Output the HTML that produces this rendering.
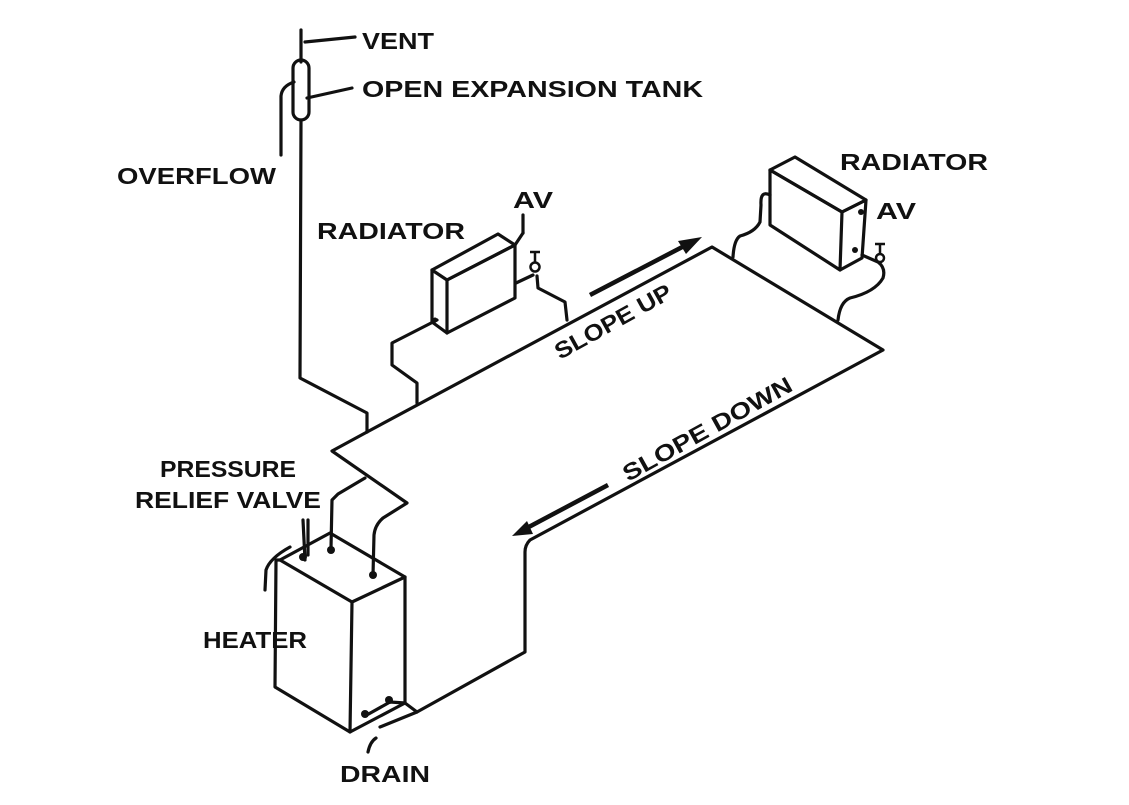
<!DOCTYPE html>
<html><head><style>
html,body{margin:0;padding:0;background:#fff;}
svg{display:block;}
text{font-family:"Liberation Sans",sans-serif;font-weight:bold;font-size:23px;fill:#111;}
</style></head><body>
<svg width="1129" height="805" viewBox="0 0 1129 805" xmlns="http://www.w3.org/2000/svg">
<g fill="none" stroke="#111" stroke-width="3.2" stroke-linejoin="round" stroke-linecap="round">
<!-- vent + tank -->
<line x1="301" y1="30" x2="301" y2="62"/>
<rect x="293" y="60" width="16" height="60" rx="8"/>
<path d="M294 82 Q282 86 281 96 L281 155"/>
<line x1="305" y1="42" x2="355" y2="37"/>
<line x1="307" y1="98" x2="352" y2="88"/>
<!-- supply riser -->
<path d="M301 120 L300 378 L367 413 L367 432"/>
<!-- main loop -->
<path d="M367 432 L712 247 L883 350 L530 540 Q525 545 525 552 L525 652 L417 712"/>
<path d="M367 432 L332 451 L407 503 L383 518 Q375 525 374 535 L373 575"/>
<path d="M365 478 L338 494 L332 500 L331 548"/>
<!-- heater -->
<path d="M280 560 L330 533 L405 577 L352 602 Z"/>
<path d="M280 560 L276 560 L275 687 L350 732 L405 703 L405 577"/>
<line x1="352" y1="602" x2="350" y2="732"/>
<path d="M365 716 L390 702 L405 703"/>
<path d="M380 727 L417 712 L405 703"/>
<path d="M376 738 Q370 742 368 752"/>
<!-- relief valve -->
<path d="M303 520 L305 560 M308 520 L308 555"/>
<path d="M265 590 L266 570 Q270 558 290 547"/>
<!-- radiator 1 -->
<path d="M432 270 L498 234 L515 245 L447 280 Z"/>
<path d="M447 280 L515 245 L515 298 L447 333 Z"/>
<path d="M432 270 L432 322 L447 333"/>
<path d="M437 320 L392 343 L392 365 L417 383 L417 403"/>
<path d="M516 283 L533 275 M537 276 L538 288 L565 302 L567 320"/>
<line x1="523" y1="215" x2="523" y2="233"/>
<path d="M523 233 L515 245"/>
<!-- radiator 2 -->
<path d="M770 170 L795 157 L866 200 L842 212 Z"/>
<path d="M770 170 L842 212 L840 270 L770 225 Z"/>
<path d="M842 212 L866 200 L862 258 L840 270"/>
<path d="M770 195 Q760 190 761 205 L760 222 Q755 232 740 236 Q734 240 733 257"/>
<path d="M862 255 L878 262 Q886 268 883 278 Q875 292 850 298 Q840 302 838 320"/>
</g>
<g fill="#111">
<circle cx="535" cy="267" r="4.5" fill="#fff" stroke="#111" stroke-width="2.5"/>
<path d="M530 252 L540 252 M535 252 L535 262" stroke="#111" stroke-width="2.5"/>
<circle cx="880" cy="258" r="4" fill="#fff" stroke="#111" stroke-width="2.5"/>
<path d="M875 244 L885 244 M880 244 L880 254" stroke="#111" stroke-width="2.5"/>
<circle cx="861" cy="212" r="3"/><circle cx="855" cy="250" r="3"/>
<circle cx="303" cy="557" r="4"/><circle cx="331" cy="550" r="4"/><circle cx="373" cy="575" r="4"/>
<circle cx="365" cy="714" r="4"/><circle cx="389" cy="700" r="4"/>
<circle cx="435" cy="320" r="2.5"/>
<!-- arrows -->
<path d="M590 295 L690 243" stroke="#111" stroke-width="4.5"/>
<polygon points="702,237 678,241 686,254"/>
<path d="M608 485 L525 529" stroke="#111" stroke-width="4.5"/>
<polygon points="512,536 527,521 533,534"/>
</g>
<text x="362" y="49" textLength="72" lengthAdjust="spacingAndGlyphs">VENT</text>
<text x="362" y="97" textLength="341" lengthAdjust="spacingAndGlyphs">OPEN EXPANSION TANK</text>
<text x="117" y="184" textLength="159" lengthAdjust="spacingAndGlyphs">OVERFLOW</text>
<text x="317" y="239" textLength="148" lengthAdjust="spacingAndGlyphs">RADIATOR</text>
<text x="513" y="208" textLength="40" lengthAdjust="spacingAndGlyphs">AV</text>
<text x="840" y="170" textLength="148" lengthAdjust="spacingAndGlyphs">RADIATOR</text>
<text x="876" y="219" textLength="40" lengthAdjust="spacingAndGlyphs">AV</text>
<text x="160" y="477" textLength="136" lengthAdjust="spacingAndGlyphs">PRESSURE</text>
<text x="135" y="508" textLength="186" lengthAdjust="spacingAndGlyphs">RELIEF VALVE</text>
<text x="203" y="648" textLength="104" lengthAdjust="spacingAndGlyphs">HEATER</text>
<text x="340" y="782" textLength="90" lengthAdjust="spacingAndGlyphs">DRAIN</text>
<text transform="translate(560,360) rotate(-29)" textLength="130" lengthAdjust="spacingAndGlyphs">SLOPE UP</text>
<text transform="translate(628,482) rotate(-29)" textLength="190" lengthAdjust="spacingAndGlyphs">SLOPE DOWN</text>
</svg>
</body></html>
